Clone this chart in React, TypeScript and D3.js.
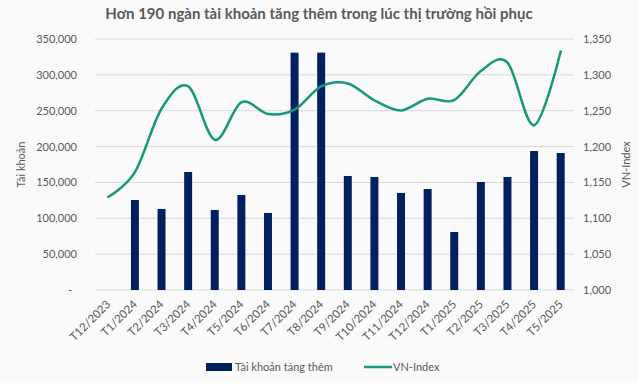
import React from "react";
import * as d3 from "d3";

const categories = ["T12/2023","T1/2024","T2/2024","T3/2024","T4/2024","T5/2024","T6/2024","T7/2024","T8/2024","T9/2024","T10/2024","T11/2024","T12/2024","T1/2025","T2/2025","T3/2025","T4/2025","T5/2025"];
const accounts: (number | null)[] = [null,125500,113000,164500,111500,132500,107400,331000,331000,159000,157600,135300,140800,80900,150600,157600,193800,191000];
const vnIndex = [1129.93,1164.31,1252.73,1284.09,1209.52,1261.72,1245.32,1251.51,1283.87,1287.94,1264.48,1250.46,1266.78,1264.82,1305.36,1317.07,1229.77,1332.6];
const leftTicks = [0,50000,100000,150000,200000,250000,300000,350000];
const rightTicks = [1000,1050,1100,1150,1200,1250,1300,1350];
const title = "Hơn 190 ngàn tài khoản tăng thêm trong lúc thị trường hồi phục";
const leftTitle = "Tài khoản";
const rightTitle = "VN-Index";
const legendBar = "Tài khoản tăng thêm";
const legendLine = "VN-Index";

const W = 639, H = 383;
const L = 95, R = 574, T = 39, B = 290;
const FONT = "Lato, 'Open Sans', sans-serif";
const TXT = "#595959";

export default function App() {
  const x = d3.scaleBand<string>().domain(categories).range([L, R]).paddingInner(0.7).paddingOuter(0.35);
  const band = d3.scaleBand<string>().domain(categories).range([L, R]);
  const yL = d3.scaleLinear().domain([0, 350000]).range([B, T]);
  const yR = d3.scaleLinear().domain([1000, 1350]).range([B, T]);
  const fmt = d3.format(",");
  const line = d3.line<number>()
    .x((_, i) => (band(categories[i]) as number) + band.bandwidth() / 2)
    .y(d => yR(d))
    .curve(d3.curveCardinal.tension(0));
  return (
    <svg width={W} height={H} style={{ position: "absolute", left: 0, top: 0 }} fontFamily={FONT}>
      <rect width={W} height={H} fill="#fafafa" />
      <text x={319} y={19} textAnchor="middle" fontSize={15} fontWeight={700} fill={TXT}>{title}</text>
      {leftTicks.map(t => (
        <line key={"g" + t} x1={L} x2={R} y1={yL(t)} y2={yL(t)} stroke="#d9d9d9" strokeWidth={1} />
      ))}
      {leftTicks.map(t => (
        <text key={"l" + t} x={t === 0 ? 72 : 77} y={yL(t) + 4} textAnchor="end" fontSize={11} fill={TXT}>{t === 0 ? "-" : fmt(t)}</text>
      ))}
      {rightTicks.map(t => (
        <text key={"r" + t} x={583} y={yR(t) + 4} textAnchor="start" fontSize={11} fill={TXT}>{fmt(t)}</text>
      ))}
      <text transform={`translate(25,${(T + B) / 2}) rotate(-90)`} textAnchor="middle" fontSize={11} fill={TXT}>{leftTitle}</text>
      <text transform={`translate(630,${(T + B) / 2}) rotate(-90)`} textAnchor="middle" fontSize={11} fill={TXT}>{rightTitle}</text>
      {categories.map((c, i) => accounts[i] == null ? null : (
        <rect key={c} x={x(c)} y={yL(accounts[i] as number)} width={x.bandwidth()} height={B - yL(accounts[i] as number)} fill="#002060" />
      ))}
      <path d={line(vnIndex) || ""} fill="none" stroke="#17977c" strokeWidth={2.5} strokeLinecap="round" />
      {categories.map(c => {
        const cx = (band(c) as number) + band.bandwidth() / 2 + 3;
        return (
          <text key={"x" + c} transform={`translate(${cx},${B + 15}) rotate(-45)`} textAnchor="end" fontSize={11.5} fill={TXT}>{c}</text>
        );
      })}
      <rect x={206} y={363} width={26} height={8} fill="#002060" />
      <text x={235} y={371} fontSize={11} fill={TXT}>{legendBar}</text>
      <line x1={364} x2={392} y1={367} y2={367} stroke="#17977c" strokeWidth={2.5} />
      <text x={393} y={371} fontSize={11} fill={TXT}>{legendLine}</text>
    </svg>
  );
}
